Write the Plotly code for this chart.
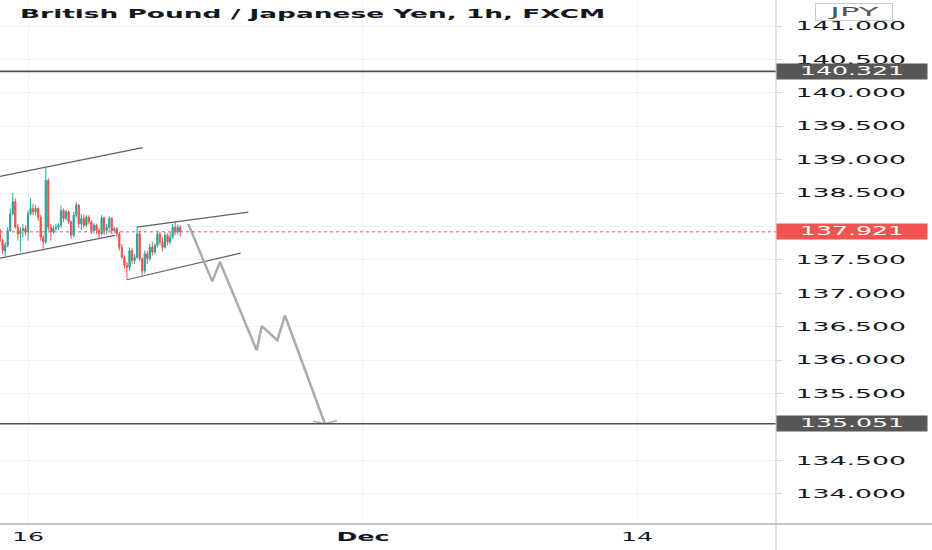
import plotly.graph_objects as go

# ---------------- data ----------------
# x = trading hours since Mon 16 Nov 00:00 (2-hour candles)
hours = list(range(-22, 122, 2))
closes = [137.79, 137.64, 137.72, 137.94, 138.19, 138.37, 137.99, 137.89, 137.94, 137.97,
          137.92, 138.19, 138.27, 138.22, 138.27, 138.14, 137.84, 137.77, 138.69, 137.99,
          137.92, 137.97, 137.99, 138.02, 138.24, 138.12, 138.22, 138.07, 137.87, 138.17,
          138.32, 138.04, 138.12, 138.02, 138.14, 138.07, 137.94, 138.02, 137.94, 137.89,
          138.13, 137.94, 137.99, 138.12, 137.94, 137.97, 137.89, 137.69, 137.54, 137.42,
          137.39, 137.64, 137.49, 137.54, 137.89, 137.52, 137.34, 137.59, 137.52, 137.69,
          137.62, 137.72, 137.89, 137.77, 137.69, 137.87, 137.77, 137.84, 137.99, 137.92,
          137.99, 137.921]
highs = [137.97, 137.82, 137.77, 137.99, 138.27, 138.50, 138.42, 138.04, 137.99, 138.04,
         138.02, 138.24, 138.42, 138.34, 138.32, 138.29, 138.17, 137.87, 138.88, 138.72,
         138.04, 138.02, 138.04, 138.05, 138.32, 138.27, 138.25, 138.24, 138.09, 138.22,
         138.37, 138.34, 138.19, 138.18, 138.17, 138.17, 138.09, 138.05, 138.04, 137.98,
         138.17, 138.15, 138.04, 138.15, 138.14, 138.00, 137.99, 137.92, 137.74, 137.57,
         137.47, 137.69, 137.67, 137.59, 137.99, 137.94, 137.54, 137.64, 137.64, 137.74,
         137.77, 137.75, 137.94, 137.92, 137.84, 137.92, 137.90, 137.92, 138.04, 138.08,
         138.03, 138.02]
lows = [137.77, 137.59, 137.55, 137.69, 137.92, 138.17, 137.97, 137.79, 137.62, 137.84,
        137.87, 137.79, 138.17, 138.17, 138.17, 138.09, 137.79, 137.67, 137.74, 137.94,
        137.79, 137.89, 137.94, 137.95, 137.98, 138.07, 138.09, 138.04, 137.82, 137.84,
        138.13, 137.98, 137.95, 137.98, 137.99, 138.03, 137.89, 137.90, 137.89, 137.83,
        137.87, 137.87, 137.89, 137.94, 137.89, 137.90, 137.85, 137.64, 137.52, 137.37,
        137.22, 137.34, 137.44, 137.44, 137.52, 137.49, 137.27, 137.30, 137.44, 137.49,
        137.57, 137.59, 137.69, 137.72, 137.63, 137.67, 137.72, 137.73, 137.82, 137.87,
        137.88, 137.85]
first_open = 137.94
opens = [first_open] + closes[:-1]

# drawings (hours, price)
upper_channel_x = [-22.07, 90.4]
upper_channel_y = [138.751, 139.181]
lower_channel_x = [-22.07, 68.6]
lower_channel_y = [137.528, 137.868]
flag_upper_x = [85.7, 173.6]
flag_upper_y = [137.993, 138.217]
flag_lower_x = [77.8, 167.6]
flag_lower_y = [137.205, 137.603]
path_x = [126.3, 145.2, 151.3, 180.2, 184.2, 196.5, 202.5, 234.0]
path_y = [138.04, 137.18, 137.47, 136.15, 136.51, 136.30, 136.67, 135.051]
arrow_x = [224.6, 234.0, 243.5]
arrow_y = [135.09, 135.051, 135.10]

resistance = 140.321
support = 135.051
last_price = 137.921

# 138.000 and 135.000 sit fully behind the price labels in the reference
price_ticks = [134.0, 134.5, 135.5, 136.0, 136.5, 137.0, 137.5,
               138.5, 139.0, 139.5, 140.0, 140.5, 141.0]
time_tick_hours = [0, 264, 480]
time_tick_labels = ["16", "<b>Dec</b>", "14"]

title_text = "British Pound / Japanese Yen, 1h, FXCM"
currency = "JPY"

# ---------------- figure ----------------
FONT = "DejaVu Sans"
TXT = "#131722"
fig = go.Figure()

fig.add_trace(go.Candlestick(
    x=hours, open=opens, high=highs, low=lows, close=closes,
    increasing=dict(line=dict(color="#26a69a", width=1), fillcolor="#26a69a"),
    decreasing=dict(line=dict(color="#ef5350", width=1), fillcolor="#ef5350"),
    hoverinfo="skip", showlegend=False,
))

for xs, ys in [(upper_channel_x, upper_channel_y), (lower_channel_x, lower_channel_y),
               (flag_upper_x, flag_upper_y), (flag_lower_x, flag_lower_y)]:
    fig.add_trace(go.Scatter(x=xs, y=ys, mode="lines",
                             line=dict(color="#5d606b", width=1.2),
                             hoverinfo="skip", showlegend=False))

fig.add_trace(go.Scatter(x=path_x, y=path_y, mode="lines",
                         line=dict(color="#ababab", width=2.5),
                         hoverinfo="skip", showlegend=False))
fig.add_trace(go.Scatter(x=arrow_x, y=arrow_y, mode="lines",
                         line=dict(color="#ababab", width=1.5),
                         hoverinfo="skip", showlegend=False))

shapes = []
# faint grid lines at the hidden levels
for lvl in (135.0, 138.0):
    shapes.append(dict(type="line", xref="paper", yref="y", x0=0, x1=1, y0=lvl, y1=lvl,
                       line=dict(color="#f0f3fa", width=1), layer="below"))
for lvl in (resistance, support):
    shapes.append(dict(type="line", xref="paper", yref="y", x0=0, x1=1, y0=lvl, y1=lvl,
                       line=dict(color="#505050", width=1.6), layer="above"))
shapes.append(dict(type="line", xref="paper", yref="y", x0=0, x1=1, y0=last_price, y1=last_price,
                   line=dict(color="#ef5350", width=1, dash="dot"), layer="above"))
# bottom border spanning the price scale too
shapes.append(dict(type="line", xref="paper", yref="paper", x0=0, x1=932 / 776, y0=0, y1=0,
                   line=dict(color="#8a8d96", width=1.2)))
# price-scale border running into the time scale
shapes.append(dict(type="line", xref="paper", yref="paper", x0=1, x1=1, y0=-26 / 524, y1=1,
                   line=dict(color="#c3c6ce", width=1)))
fig.update_layout(shapes=shapes)

annotations = []
for lvl, bg in [(resistance, "#575757"), (support, "#575757"), (last_price, "#f05350")]:
    annotations.append(dict(xref="paper", yref="y", x=852 / 776, y=lvl, xanchor="center",
                            yanchor="middle", text=f"{lvl:.3f}", showarrow=False,
                            bgcolor=bg, width=150, height=15, borderpad=0,
                            font=dict(family=FONT, size=12, color="white")))
annotations.append(dict(xref="paper", yref="paper", x=853.5 / 776, y=1 - 12.5 / 524,
                        xanchor="center", yanchor="middle", text=currency, showarrow=False,
                        bgcolor="white", bordercolor="#c8cbd3", borderwidth=1,
                        width=76, height=16, borderpad=0,
                        font=dict(family=FONT, size=12, color="#50535e")))
fig.update_layout(annotations=annotations)

fig.update_layout(
    width=932, height=550,
    margin=dict(l=0, r=156, t=0, b=26, autoexpand=False),
    paper_bgcolor="white", plot_bgcolor="white",
    showlegend=False,
    title=dict(text=f"<b>{title_text}</b>", x=20 / 932, xanchor="left", xref="container",
               y=1 - 14 / 550, yanchor="middle", yref="container",
               font=dict(family=FONT, size=12, color=TXT)),
    xaxis=dict(range=[-22.07, 589.5], tickmode="array", tickvals=time_tick_hours,
               ticktext=time_tick_labels, showgrid=True, gridcolor="#f0f3fa",
               zeroline=False, showline=False, ticks="", rangeslider=dict(visible=False),
               ticklabelstandoff=4,
               tickfont=dict(family=FONT, size=12, color=TXT), automargin=False),
    yaxis=dict(side="right", range=[133.551, 141.389], tickmode="array", tickvals=price_ticks,
               tickformat=".3f", showgrid=True, gridcolor="#f0f3fa", zeroline=False,
               showline=False, ticks="outside", ticklen=5, tickcolor="#d1d4dc",
               ticklabelstandoff=11,
               tickfont=dict(family=FONT, size=12, color=TXT), automargin=False),
)

stretch_js = """
document.body.style.margin = '0';
document.body.style.padding = '0';
var gd = document.getElementById('{plot_id}');
function stretchAll(){
  gd.querySelectorAll('text').forEach(function(t){
    var txt = t.textContent;
    if (!txt) return;
    var s = 2.1;
    if (t.classList.contains('gtitle')) s = 2.2;
    if (t.closest('.ytick')) s = 2.23;
    if (txt === 'JPY') s = 2.7;
    var cur = t.getAttribute('transform') || '';
    if (t.__stretched && t.__stretched === cur) return;
    var bb = t.getBBox();
    var anchor = t.getAttribute('text-anchor') || 'start';
    var ox = anchor === 'middle' ? bb.x + bb.width / 2 : (anchor === 'end' ? bb.x + bb.width : bb.x);
    var nt = cur + ' translate(' + ox + ',0) scale(' + s + ',1) translate(' + (-ox) + ',0)';
    t.setAttribute('transform', nt);
    t.__stretched = nt;
  });
}
stretchAll();
"""

fig.write_html("out.html", post_script=stretch_js, config={"displayModeBar": False})
